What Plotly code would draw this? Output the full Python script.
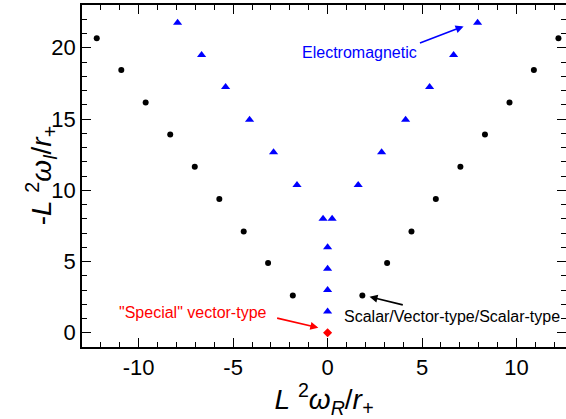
import plotly.graph_objects as go

# Scalar / Vector-type / Scalar-type modes (black circles)
scalar_x = [-12.22, -10.92, -9.63, -8.33, -7.03, -5.73, -4.44, -3.15, -1.84,
            1.84, 3.15, 4.44, 5.73, 7.03, 8.33, 9.63, 10.92, 12.22]
scalar_y = [20.67, 18.43, 16.15, 13.92, 11.65, 9.39, 7.10, 4.90, 2.61,
            2.61, 4.90, 7.10, 9.39, 11.65, 13.92, 16.15, 18.43, 20.67]

# Electromagnetic modes (blue triangles)
em_x = [-7.94, -6.67, -5.40, -4.13, -2.86, -1.62, -0.24,
        0.0, 0.0, 0.0, 0.0,
        0.24, 1.62, 2.86, 4.13, 5.40, 6.67, 7.94]
em_y = [21.75, 19.50, 17.24, 14.95, 12.67, 10.37, 8.0,
        1.5, 3.0, 4.5, 6.0,
        8.0, 10.37, 12.67, 14.95, 17.24, 19.50, 21.75]

# "Special" vector-type mode (red diamond)
special_x = [0.0]
special_y = [0.0]

x_ticks = [-10, -5, 0, 5, 10]
x_tick_labels = ["-10", "-5", "0", "5", "10"]
y_ticks = [0, 5, 10, 15, 20]
y_tick_labels = ["0", "5", "10", "15", "20"]

FONT = "Liberation Sans, Arial, Helvetica, sans-serif"

fig = go.Figure()
fig.add_trace(go.Scatter(x=scalar_x, y=scalar_y, mode="markers",
                         marker=dict(symbol="circle", size=6, color="black"),
                         showlegend=False))
fig.add_trace(go.Scatter(x=em_x, y=em_y, mode="markers",
                         marker=dict(symbol="triangle-up", size=8, color="#0000ff"),
                         showlegend=False))
fig.add_trace(go.Scatter(x=special_x, y=special_y, mode="markers",
                         marker=dict(symbol="diamond", size=7, color="#ff0000"),
                         showlegend=False))
# invisible trace to hold right-side tick axis
fig.add_trace(go.Scatter(x=[], y=[], yaxis="y2", showlegend=False))

xr = [-13, 12.62]
yr = [-1, 23]

fig.update_layout(
    width=566, height=419,
    margin=dict(l=82, r=0, t=5, b=72),
    paper_bgcolor="white", plot_bgcolor="white",
    font=dict(family=FONT, color="black"),
    xaxis=dict(range=xr, tickvals=x_ticks, ticktext=x_tick_labels, ticks="inside",
               ticklen=9, tickwidth=1.3,
               tickcolor="black", showline=True, linecolor="black", linewidth=1.5,
               mirror="ticks", showgrid=False, zeroline=False,
               tickfont=dict(size=22, family=FONT),
               minor=dict(dtick=1, ticks="inside", ticklen=5, tickwidth=1.2, tickcolor="black"),
               title=dict(text="<i>L</i> <sup>2</sup><i>ω<sub>R</sub></i>/<i>r<sub>+</sub></i>",
                          font=dict(size=28, family=FONT), standoff=4)),
    yaxis=dict(range=yr, tickvals=y_ticks, ticktext=y_tick_labels, ticks="inside",
               ticklen=9, tickwidth=1.3,
               tickcolor="black", showline=True, linecolor="black", linewidth=1.5,
               showgrid=False, zeroline=False,
               tickfont=dict(size=22, family=FONT),
               minor=dict(dtick=1, ticks="inside", ticklen=5, tickwidth=1.2, tickcolor="black")),
    yaxis2=dict(range=yr, overlaying="y", side="right", tickvals=y_ticks, ticks="inside",
                ticklen=9, tickwidth=1.3, tickcolor="black", showline=False,
                showticklabels=False, showgrid=False, zeroline=False,
                minor=dict(dtick=1, ticks="inside", ticklen=5, tickwidth=1.2, tickcolor="black")),
)

# Y axis title placed as rotated annotation
fig.add_annotation(xref="paper", yref="paper", x=-0.084, y=0.5, xanchor="center", yanchor="middle",
                   text="-<i>L</i> <sup>2</sup><i>ω<sub>I</sub></i>/<i>r<sub>+</sub></i>",
                   textangle=-90, showarrow=False, font=dict(size=28, family=FONT, color="black"))

# Text labels
fig.add_annotation(x=1.7, y=19.7, text="Electromagnetic", showarrow=False,
                   font=dict(size=16, color="#0000ff", family=FONT))
fig.add_annotation(x=6.58, y=1.12, text="Scalar/Vector-type/Scalar-type", showarrow=False,
                   font=dict(size=16, color="black", family=FONT))
fig.add_annotation(x=-7.12, y=1.44, text="\"Special\" vector-type", showarrow=False,
                   font=dict(size=16, color="#ff0000", family=FONT))

# Arrows
fig.add_annotation(x=7.2, y=21.5, ax=4.81, ay=20.3, axref="x", ayref="y", text="",
                   showarrow=True, arrowhead=2, arrowsize=1, arrowwidth=1.6, arrowcolor="#0000ff")
fig.add_annotation(x=2.22, y=2.52, ax=4.06, ay=1.93, axref="x", ayref="y", text="",
                   showarrow=True, arrowhead=2, arrowsize=1, arrowwidth=1.6, arrowcolor="black")
fig.add_annotation(x=-0.49, y=0.35, ax=-2.75, ay=1.05, axref="x", ayref="y", text="",
                   showarrow=True, arrowhead=2, arrowsize=1, arrowwidth=1.6, arrowcolor="#ff0000")

fig.write_html("out.html", config={"displayModeBar": False},
               post_script="document.body.style.margin='0';document.body.style.overflow='hidden';")
